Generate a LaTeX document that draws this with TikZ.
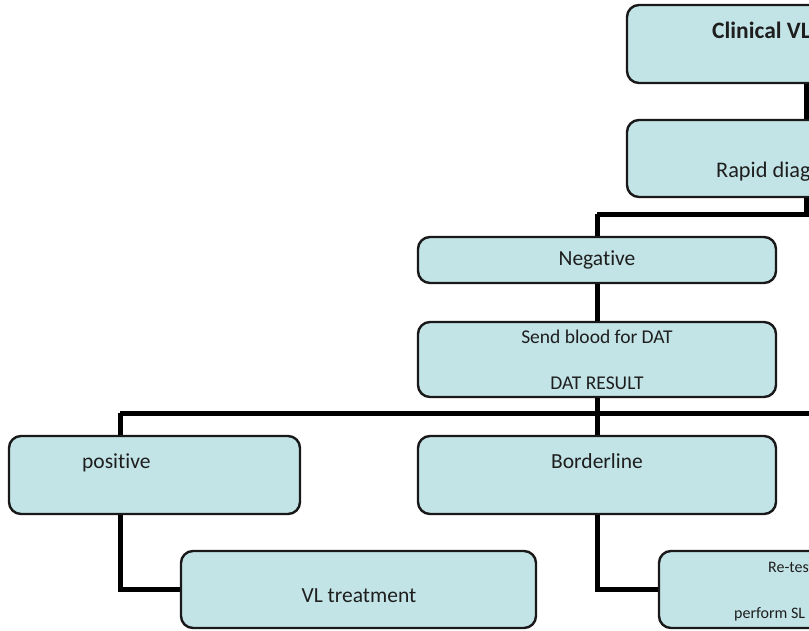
\documentclass[tikz,border=0pt]{standalone}
\usepackage{fontspec}
\setmainfont{Carlito}[RawFeature=-liga]
\definecolor{boxfill}{RGB}{195,228,231}
\definecolor{boxline}{RGB}{25,25,25}
\definecolor{txt}{RGB}{30,30,30}
\begin{document}
\begin{tikzpicture}[x=1pt,y=-1pt,
  box/.style={draw=boxline,line width=2.4pt,fill=boxfill,rounded corners=12pt,inner sep=0pt},
  conn/.style={draw=black,line width=5pt},
  lbl/.style={inner sep=0pt,text=txt,font=\fontsize{21.5}{24}\selectfont},
  small/.style={inner sep=0pt,text=txt,font=\fontsize{19.5}{22}\selectfont},
  tiny/.style={inner sep=0pt,text=txt,font=\fontsize{16}{18}\selectfont}]
\useasboundingbox (0,0) rectangle (809,630);
\clip (0,0) rectangle (809,630);
% boxes
\node[box,minimum width=358pt,minimum height=78pt] (clin) at (806,44) {};
\node[box,minimum width=358pt,minimum height=77pt] (rapid) at (806,158.5) {};
\node[box,minimum width=358pt,minimum height=46pt] (neg) at (597,260) {};
\node[box,minimum width=358pt,minimum height=75pt] (dat) at (597,359.5) {};
\node[box,minimum width=291pt,minimum height=78pt] (pos) at (154.5,475) {};
\node[box,minimum width=358pt,minimum height=78pt] (bord) at (597,475) {};
\node[box,minimum width=355pt,minimum height=77pt] (vl) at (358.5,589.5) {};
\node[box,minimum width=358pt,minimum height=77pt] (retest) at (838,589.5) {};
% junction points
\coordinate (barL) at (597,214);
\coordinate (barR) at (1015,214);
\coordinate (bar2L) at (120,413);
\coordinate (bar2R) at (1074,413);
% connectors
\draw[conn] (clin.south) -- (rapid.north);
\draw[conn] (rapid.south) -- (rapid.south |- barL);
\draw[conn] (barL) -- (barR);
\draw[conn] (barL) -- (neg.north);
\draw[conn] (neg.south) -- (dat.north);
\draw[conn] (dat.south) -- (bord.north);
\draw[conn] (bar2L) -- (bar2R);
\draw[conn] (bar2L) -- (bar2L |- pos.north);
\draw[conn] (bar2L |- pos.south) |- (vl.west);
\draw[conn] (bord.south) |- (retest.west);
% texts
\node[lbl,anchor=base west,font=\fontsize{23.5}{26}\selectfont\bfseries] (tclin) at (712,38) {Clinical VL};
\node[lbl,anchor=base west,font=\fontsize{22.3}{25}\selectfont] (trapid) at (716,177) {Rapid diag};
\node[lbl,anchor=base] (tneg) at (597,265) {Negative};
\node[small,anchor=base] (tdat1) at (597,343) {Send blood for DAT};
\node[small,anchor=base] (tdat2) at (597,389) {DAT RESULT};
\node[lbl,anchor=base west] (tpos) at (82,468) {positive};
\node[lbl,anchor=base] (tbord) at (597,468) {Borderline};
\node[lbl,anchor=base] (tvl) at (359,602) {VL treatment};
\node[tiny,anchor=base west] (tre1) at (768,572) {Re-test};
\node[tiny,anchor=base west] (tre2) at (734,618) {perform SL};
\end{tikzpicture}
\end{document}
